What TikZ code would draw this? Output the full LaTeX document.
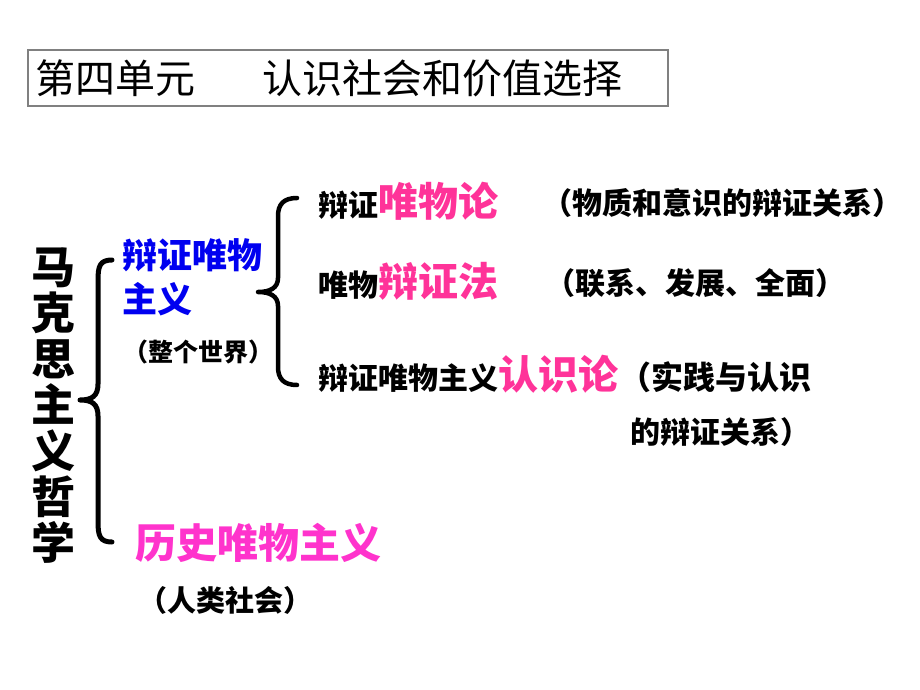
\documentclass[tikz,border=0pt]{standalone}
\usepackage{fontspec}
\setmainfont{Noto Sans CJK SC}
\usepackage{tikz}
\usetikzlibrary{calc}
\definecolor{rosepink}{HTML}{FF3399}
\definecolor{hotmagenta}{HTML}{FF33CC}
\definecolor{pureblue}{HTML}{0000F0}
\def\fsz#1{\fontsize{#1}{#1}\selectfont}
\tikzset{
	txt/.style={inner sep=0pt, anchor=west, font=\bfseries\fsz{30}},
	keyword/.style={inner sep=0pt, anchor=base west, text=rosepink, font=\bfseries\fsz{40}},
	bracestroke/.style={line width=5pt, line cap=round, line join=round}
}

\begin{document}
\begin{tikzpicture}[x=1pt, y=-1pt]
			%%%%% START %%%%%
			\useasboundingbox (0, 0) rectangle (920, 690);
			
			% title box
			\draw[line width=1.5pt, color=black!50] (28, 50) rectangle (668, 106);
			\node[inner sep=0pt, anchor=west, font=\fsz{40}] (unit) at (35, 78) {第四单元};
			\node[inner sep=0pt, anchor=west, font=\fsz{40}] (title) at (262, 78) {认识社会和价值选择};
			
			% left column
			\node[inner sep=0pt, align=center, font=\bfseries\fontsize{44}{46}\selectfont] (marx) at (53, 406) {马\\克\\思\\主\\义\\哲\\学};
			\draw[bracestroke] (112, 260) .. controls (100, 260) and (98, 266) .. (98, 280) -- (98, 384) .. controls (98, 396) and (92, 400) .. (80, 400) .. controls (92, 400) and (98, 404) .. (98, 416) -- (98, 522) .. controls (98, 536) and (100, 542) .. (112, 542);
			
			\node[txt, text=pureblue, font=\bfseries\fsz{35}] (dm1) at (122, 255) {辩证唯物};
			\node[txt, text=pureblue, font=\bfseries\fsz{35}] (dm2) at (122, 299) {主义};
			\node[txt, font=\bfseries\fsz{25}] (world) at (123, 352) {（整个世界）};
			
			\draw[bracestroke, line width=4.5pt] (297, 198) .. controls (284, 198) and (278, 204) .. (278, 216) -- (278, 278) .. controls (278, 288) and (270, 292) .. (258, 292) .. controls (270, 292) and (278, 296) .. (278, 306) -- (278, 367) .. controls (278, 379) and (284, 385) .. (297, 385);
			
			% rows
			\node[txt] (r1a) at (318, 205) {辩证};
			\node[keyword] (r1b) at (r1a.base east) {唯物论};
			\node[txt] (r1c) at (542, 203) {（物质和意识的辩证关系）};
			
			\node[txt] (r2a) at (318, 285) {唯物};
			\node[keyword] (r2b) at (r2a.base east) {辩证法};
			\node[txt] (r2c) at (545, 283) {（联系、发展、全面）};
			
			\node[txt] (r3a) at (318, 378) {辩证唯物主义};
			\node[keyword] (r3b) at (r3a.base east) {认识论};
			\node[txt, anchor=base west, font=\bfseries\fsz{32}] (r3c) at (r3b.base east) {（实践与认识};
			\node[txt] (r4) at (630, 432) {的辩证关系）};
			
			\node[keyword, anchor=west, text=hotmagenta, font=\bfseries\fsz{41}] (hist) at (135, 543) {历史唯物主义};
			\node[txt, font=\bfseries\fsz{29}] (society) at (138, 600) {（人类社会）};
			%%%%% END %%%%%
\end{tikzpicture}
\end{document}
